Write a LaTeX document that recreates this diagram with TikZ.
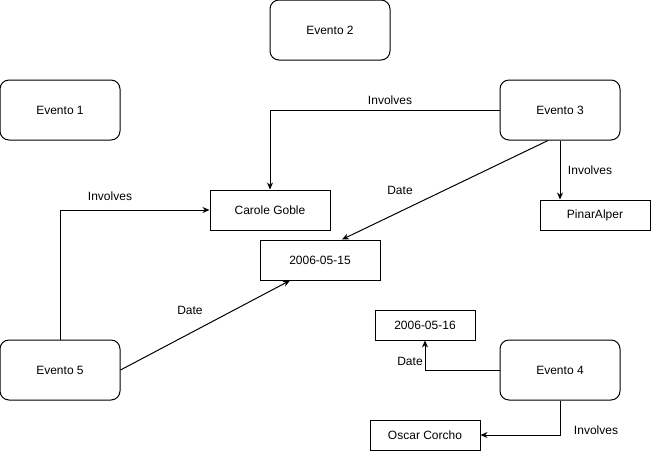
\documentclass[tikz,border=0pt]{standalone}
\usepackage{fontspec}
\setmainfont{Liberation Sans}
\usetikzlibrary{arrows.meta}

\begin{document}
\begin{tikzpicture}[x=1pt,y=-1pt,
  evento/.style={draw,line width=1pt,rounded corners=9pt,minimum width=120pt,minimum height=60pt,inner sep=0pt},
  valor/.style={draw,line width=1pt,inner sep=0pt},
  rel/.style={draw,line width=1pt,-{Stealth[length=7pt,width=6pt]}},
  lbl/.style={inner sep=0pt}]
\fontsize{12}{14}\selectfont
\useasboundingbox (0,0) rectangle (651,451);
\node[evento] (e1) at (60,110) {Evento 1};
\node[evento] (e2) at (330,30) {Evento 2};
\node[evento] (e3) at (560,110) {Evento 3};
\node[evento] (e4) at (560,370) {Evento 4};
\node[evento] (e5) at (60,370) {Evento 5};
\node[valor,minimum width=120pt,minimum height=40pt] (cg) at (270,210) {Carole Goble};
\node[valor,minimum width=110pt,minimum height=30pt] (pa) at (595,215) {PinarAlper};
\node[valor,minimum width=120pt,minimum height=40pt] (d15) at (320,260) {2006-05-15};
\node[valor,minimum width=100pt,minimum height=30pt] (d16) at (425,325) {2006-05-16};
\node[valor,minimum width=110pt,minimum height=30pt] (oc) at (425,435) {Oscar Corcho};
\path[rel] (e3.west) -| (cg.north);
\path[rel] (e3.south) -- (e3.south |- pa.north);
\path[rel] ([xshift=-12pt]e3.south) -- ([xshift=22pt]d15.north);
\path[rel] (e5.north) |- (cg.west);
\path[rel] (e5.east) -- ([xshift=-30pt]d15.south);
\path[rel] (e4.west) -| (d16.south);
\path[rel] (e4.south) |- (oc.east);
\node[lbl] (l1) at (390,100) {Involves};
\node[lbl] (l2) at (590,170) {Involves};
\node[lbl] (l3) at (400,190) {Date};
\node[lbl] (l4) at (110,196) {Involves};
\node[lbl] (l5) at (190,310) {Date};
\node[lbl] (l6) at (410,361) {Date};
\node[lbl] (l7) at (596,430) {Involves};
\end{tikzpicture}
\end{document}
